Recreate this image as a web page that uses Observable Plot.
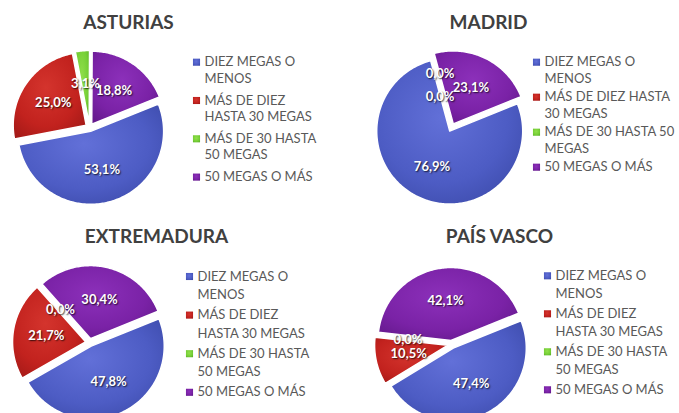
<!DOCTYPE html>
<html>
<head>
<meta charset="utf-8">
<script src="https://cdn.jsdelivr.net/npm/d3@7"></script>
<script src="https://cdn.jsdelivr.net/npm/@observablehq/plot@0.6"></script>
<style>
  html, body { margin: 0; padding: 0; background: #fff; }
  .pie-labels text { text-shadow: 1px 1px 1.5px rgba(0,0,0,0.75); }
</style>
</head>
<body>
<div id="chart"></div>
<script>
// ---- data ----
const regions = ["ASTURIAS", "MADRID", "EXTREMADURA", "PAÍS VASCO"];
const categories = ["DIEZ MEGAS O MENOS", "MÁS DE DIEZ HASTA 30 MEGAS", "MÁS DE 30 HASTA 50 MEGAS", "50 MEGAS O MÁS"];
const asturias = [53.1, 25.0, 3.1, 18.8];
const madrid = [76.9, 0.0, 0.0, 23.1];
const extremadura = [47.8, 21.7, 0.0, 30.4];
const paisVasco = [47.4, 10.5, 0.0, 42.1];
const legendLines = [["DIEZ MEGAS O", "MENOS"], ["MÁS DE DIEZ", "HASTA 30 MEGAS"], ["MÁS DE 30 HASTA", "50 MEGAS"], ["50 MEGAS O MÁS"]];
const legendLinesMadrid = [["DIEZ MEGAS O", "MENOS"], ["MÁS DE DIEZ HASTA", "30 MEGAS"], ["MÁS DE 30 HASTA 50", "MEGAS"], ["50 MEGAS O MÁS"]];

// ---- style / layout ----
const gradients = [
  ["#6270d8", "#4d5cc4", "#3a48a6"],
  ["#d4342d", "#c2221e", "#9e1816"],
  ["#92e04c", "#76cf36", "#58ad25"],
  ["#8c30ba", "#7a22a6", "#5f1786"]
];
const layout = [
  {values: asturias, lines: legendLines, cx: 89, cy: 127, tx: 128, ty: 22, lx: 196, ly0: 61.7, pitch: 38.3, gap: 16.5},
  {values: madrid, lines: legendLinesMadrid, cx: 451, cy: 127, tx: 488, ty: 22, lx: 536, ly0: 61.7, pitch: 35, gap: 16.5},
  {values: extremadura, lines: legendLines, cx: 89, cy: 342, tx: 156, ty: 236, lx: 189, ly0: 276, pitch: 38.6, gap: 18.5},
  {values: paisVasco, lines: legendLines, cx: 451, cy: 344, tx: 499, ty: 236, lx: 547, ly0: 275.3, pitch: 38, gap: 18}
];
const R = 73, EXPLODE = 4, START = 68; // degrees, clockwise from 12 o'clock
const rad = d => d * Math.PI / 180;
const fmt = v => v.toFixed(1).replace(".", ",") + "%";

const slices = [], labels = [], legendSq = [], legendTx = [], titles = [];
layout.forEach((p, ri) => {
  const total = d3.sum(p.values);
  let a = START;
  const zeroAt = [];
  p.values.forEach((v, ci) => {
    const span = v / total * 360;
    const a0 = a, a1 = a + span, mid = (a0 + a1) / 2;
    if (v > 0) {
      const ox = p.cx + EXPLODE * Math.sin(rad(mid));
      const oy = p.cy - EXPLODE * Math.cos(rad(mid));
      const key = ri + "-" + ci;
      slices.push({key, cat: categories[ci], x: ox, y: oy});
      const n = Math.max(2, Math.ceil(span));
      for (let i = 0; i <= n; ++i) {
        const t = a0 + span * i / n;
        slices.push({key, cat: categories[ci], x: ox + R * Math.sin(rad(t)), y: oy - R * Math.cos(rad(t))});
      }
      labels.push({text: fmt(v), x: p.cx + 0.6 * R * Math.sin(rad(mid)), y: p.cy - 0.6 * R * Math.cos(rad(mid))});
    } else {
      zeroAt.push({text: fmt(v), x: p.cx + 0.6 * R * Math.sin(rad(a0)), y: p.cy - 0.6 * R * Math.cos(rad(a0))});
    }
    a = a1;
  });
  zeroAt.forEach((z, i) => labels.push({...z, y: z.y + (i - (zeroAt.length - 1) / 2) * 23}));
  titles.push({text: regions[ri], x: p.tx, y: p.ty});
  p.lines.forEach((ls, ci) => {
    const y = p.ly0 + ci * p.pitch;
    legendSq.push({cat: categories[ci], x: p.lx, y});
    ls.forEach((t, li) => legendTx.push({text: t, x: p.lx + 8, y: y + li * p.gap}));
  });
});

const defs = () => {
  const d = d3.create("svg:defs");
  gradients.forEach((g, i) => {
    const rg = d.append("radialGradient").attr("id", "pg" + i).attr("cx", "45%").attr("cy", "40%").attr("r", "75%");
    rg.append("stop").attr("offset", "0%").attr("stop-color", g[0]);
    rg.append("stop").attr("offset", "60%").attr("stop-color", g[1]);
    rg.append("stop").attr("offset", "100%").attr("stop-color", g[2]);
  });
  return d.node();
};

const chart = Plot.plot({
  width: 679,
  height: 413,
  margin: 0,
  style: {background: "#fff", fontFamily: "Lato, 'Open Sans', sans-serif"},
  x: {domain: [0, 679], range: [0, 679], axis: null},
  y: {domain: [0, 413], range: [0, 413], axis: null},
  color: {domain: categories, range: gradients.map((g, i) => "url(#pg" + i + ")")},
  marks: [
    defs,
    Plot.line(slices, {x: "x", y: "y", z: "key", fill: "cat", stroke: "#fff", strokeWidth: 1.5, curve: "linear-closed"}),
    Plot.text(labels, {x: "x", y: "y", text: "text", fill: "#fff", fontSize: 13, fontWeight: "bold", className: "pie-labels"}),
    Plot.text(titles, {x: "x", y: "y", text: "text", fill: "#404040", fontSize: 19, fontWeight: "bold"}),
    Plot.dot(legendSq, {x: "x", y: "y", fill: "cat", symbol: "square", r: 4}),
    Plot.text(legendTx, {x: "x", y: "y", text: "text", textAnchor: "start", fill: "#595959", fontSize: 13})
  ]
});
document.getElementById("chart").appendChild(chart);
</script>
</body>
</html>
